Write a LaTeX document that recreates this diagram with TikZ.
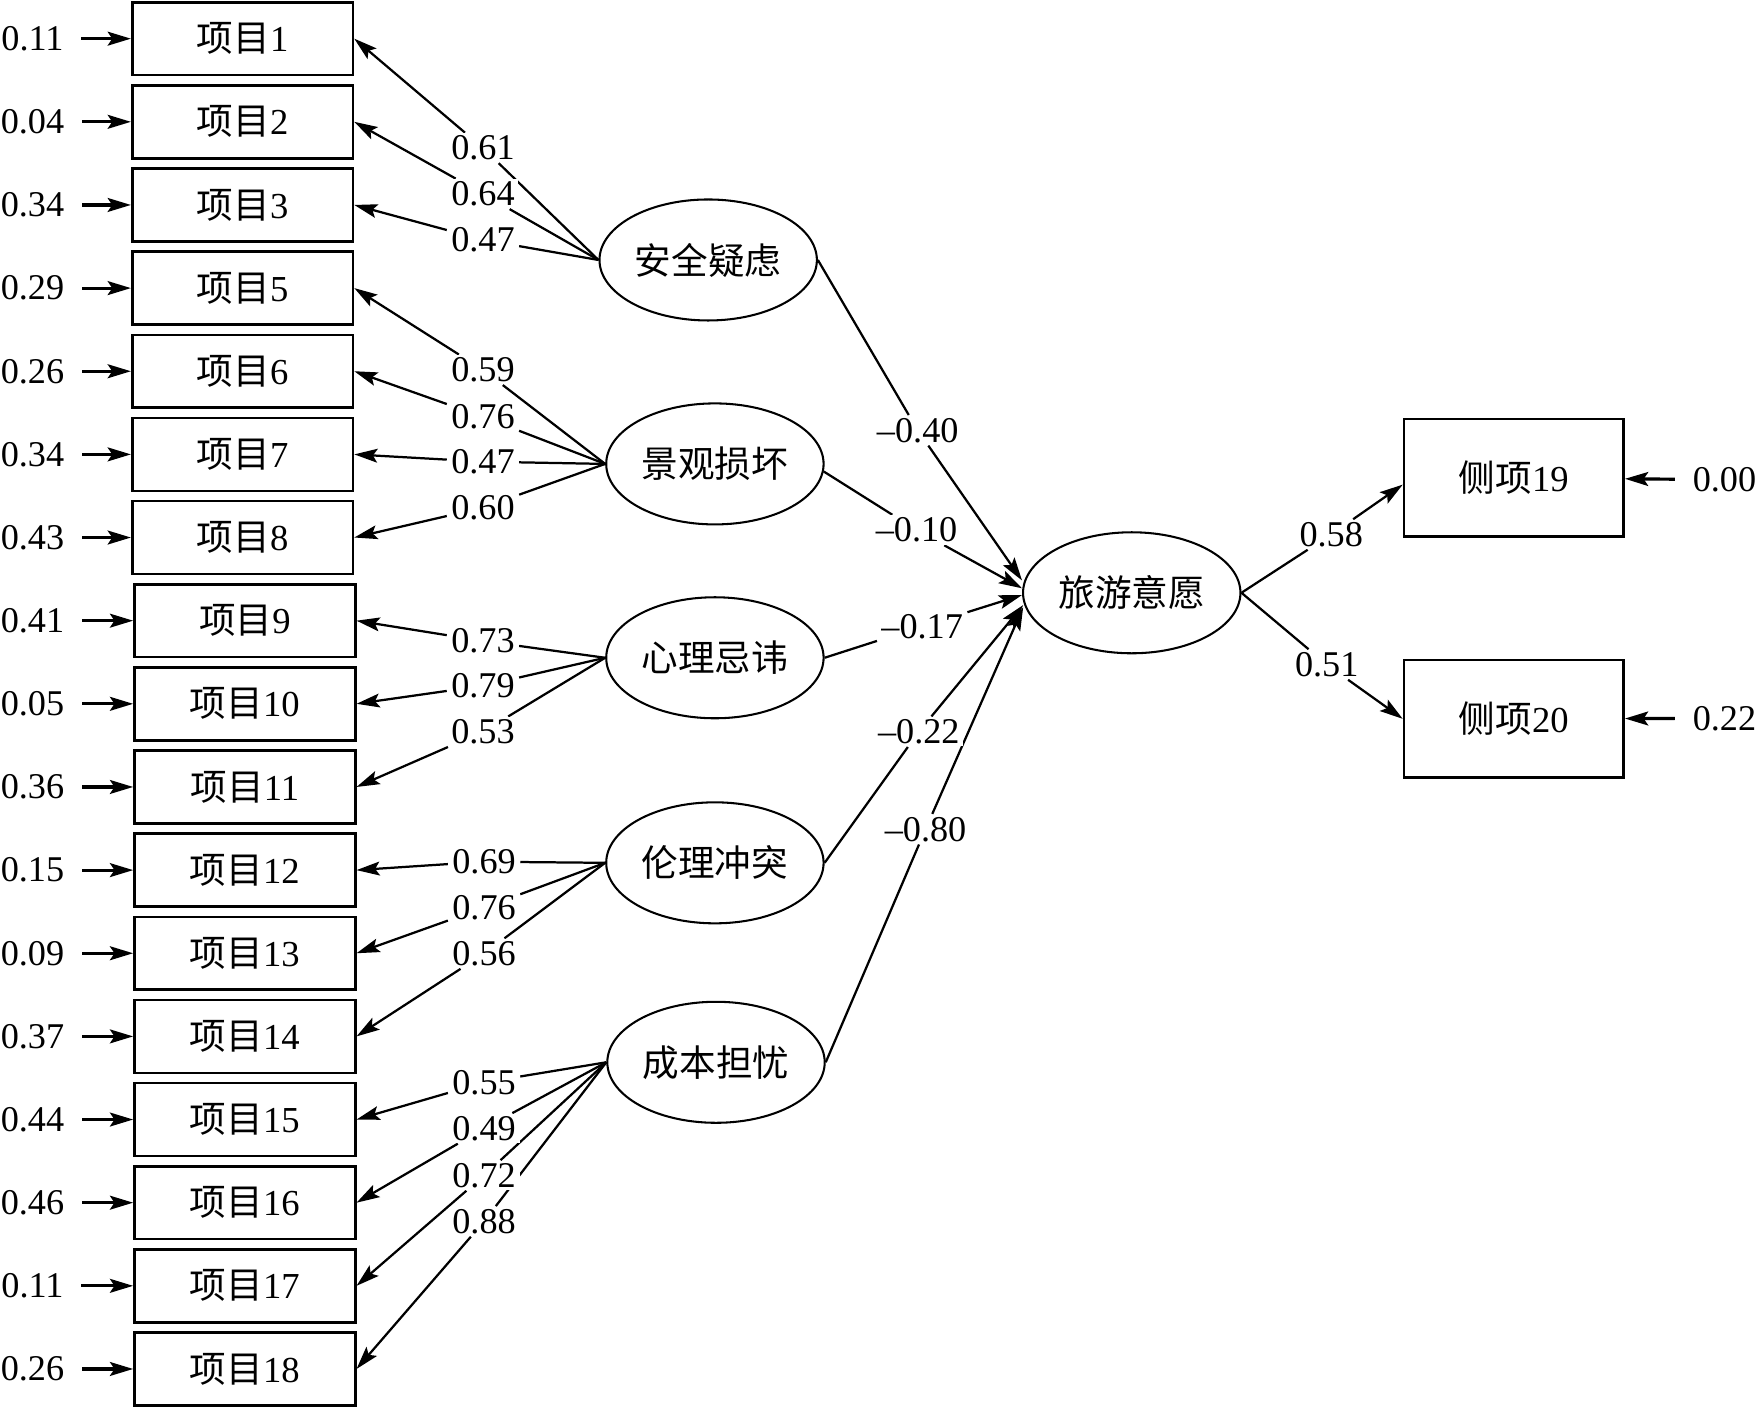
\documentclass[tikz,border=0pt]{standalone}
\usepackage{fontspec}
\setmainfont{Liberation Serif}
\newfontfamily\cjk{Noto Sans CJK SC}
\usetikzlibrary{shapes.geometric,arrows.meta,calc}
\pgfdeclarelayer{fg}
\pgfsetlayers{main,fg}
\newcommand\xmu[1]{{\cjk 项目}#1}
\begin{document}
\begin{tikzpicture}[x=0.3pt,y=-0.3pt,
 item/.style={draw,line width=0.7pt,minimum width=59.1pt,minimum height=19.5pt,inner sep=0pt,font=\fontsize{9.8pt}{11pt}\selectfont},
 side/.style={draw,line width=0.7pt,minimum width=58.8pt,minimum height=31.5pt,inner sep=0pt,font=\fontsize{9.8pt}{11pt}\selectfont},
 latent/.style={draw,ellipse,line width=0.55pt,minimum width=58.2pt,minimum height=32.4pt,inner sep=0pt,font=\cjk\fontsize{9.8pt}{11pt}\selectfont},
 err/.style={inner xsep=4.6pt,inner ysep=1pt,font=\fontsize{9.7pt}{11pt}\selectfont},
 lbl/.style={fill=white,inner xsep=1pt,inner ysep=0.6pt,font=\fontsize{9.7pt}{11pt}\selectfont},
 arr/.style={-{Stealth[length=6.2pt,width=3.7pt,inset=1.2pt]},line width=0.6pt},
 errarr/.style={arr,line width=0.85pt}]
\useasboundingbox (0,0) rectangle (1568,1255);

% observed items with error terms
\foreach \n/\i/\e in {1/0/0.11, 2/1/0.04, 3/2/0.34, 5/3/0.29, 6/4/0.26, 7/5/0.34, 8/6/0.43, 9/7/0.41, 10/8/0.05, 11/9/0.36, 12/10/0.15, 13/11/0.09, 14/12/0.37, 15/13/0.44, 16/14/0.46, 17/15/0.11, 18/16/0.26}{
  \pgfmathsetmacro\yy{34.5+\i*74.2}
  \pgfmathsetmacro\xx{\i<7 ? 216.5 : 218.5}
  \node[item] (b\n) at (\xx,\yy) {\xmu{\n}};
  \node[err] (e\n) at (29,\yy) {\e};
  \draw[errarr] (e\n) -- (b\n);
}

% latent variables
\node[latent] (ax) at (632,232) {安全疑虑};
\node[latent] (jg) at (638,414) {景观损坏};
\node[latent] (xl) at (638,587) {心理忌讳};
\node[latent] (ll) at (638,770) {伦理冲突};
\node[latent] (cb) at (639,948) {成本担忧};
\node[latent] (ty) at (1010,529) {旅游意愿};

% side items
\node[side] (s19) at (1351,426.5) {{\cjk 侧项}19};
\node[side] (s20) at (1351,641.5) {{\cjk 侧项}20};
\node[err] (r19) at (1539,428) {0.00};
\node[err] (r20) at (1539,641) {0.22};
\draw[errarr] (r19) -- (s19);
\draw[errarr] (r20) -- (s20);

% loadings
\foreach \l/\t/\x/\y/\v in {ax/1/431/132/0.61, ax/2/431/173/0.64, ax/3/431/214/0.47,
  jg/5/431/330/0.59, jg/6/431/372/0.76, jg/7/431/412/0.47, jg/8/431/453/0.60,
  xl/9/431/572/0.73, xl/10/431/612/0.79, xl/11/431/653/0.53,
  ll/12/432/769/0.69, ll/13/432/810/0.76, ll/14/432/851/0.56,
  cb/15/432/966/0.55, cb/16/432/1007/0.49, cb/17/432/1049/0.72, cb/18/432/1090/0.88}{
  \begin{pgfonlayer}{fg}
    \node[lbl] (l\t) at (\x,\y) {\v};
  \end{pgfonlayer}
  \draw[arr] (\l.west) -- (l\t) -- (b\t.east);
}

% structural paths
\begin{pgfonlayer}{fg}
\node[lbl] (p1) at (819,384) {\textendash0.40};
\node[lbl] (p2) at (818,473) {\textendash0.10};
\node[lbl] (p3) at (823,559) {\textendash0.17};
\node[lbl] (p4) at (820,653) {\textendash0.22};
\node[lbl] (p5) at (826,740) {\textendash0.80};
\node[lbl] (o1) at (1188,477) {0.58};
\node[lbl] (o2) at (1184,593) {0.51};
\end{pgfonlayer}
\draw[arr] (ax.east) -- (p1) -- ($(ty.west)+(0,-11)$);
\draw[arr] (jg.-4) -- (p2) -- ($(ty.west)+(0,-4)$);
\draw[arr] (xl.east) -- (p3) -- ($(ty.west)+(0,2)$);
\draw[arr] (ll.east) -- (p4) -- ($(ty.west)+(1,11)$);
\draw[arr] (cb.east) -- (p5) -- ($(ty.west)+(1,13)$);

% outcome indicators
\draw[arr] (ty.east) -- (o1) -- ($(s19.west)+(0,6)$);
\draw[arr] (ty.east) -- (o2) -- (s20.west);
\end{tikzpicture}
\end{document}
